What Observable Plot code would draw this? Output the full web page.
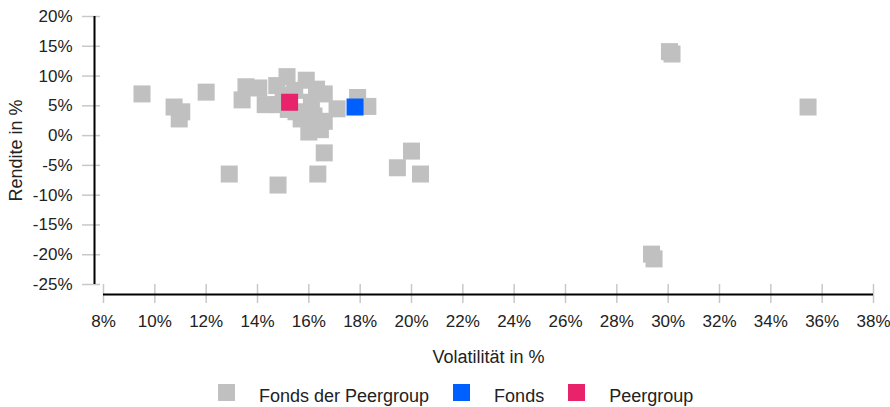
<!DOCTYPE html>
<html>
<head>
<meta charset="utf-8">
<script src="https://cdn.jsdelivr.net/npm/d3@7"></script>
<script src="https://cdn.jsdelivr.net/npm/@observablehq/plot@0.6"></script>
<style>
  html, body { margin: 0; padding: 0; background: #fff; }
  body { width: 890px; height: 407px; overflow: hidden; font-family: "Liberation Sans", Arial, sans-serif; }
  #legend { display: flex; align-items: center; height: 37px; padding-left: 218px; font-size: 18px; color: #222; margin-top: 8px; }
  #legend .item { display: flex; align-items: center; margin-right: 24px; }
  #legend .sw { width: 17px; height: 17px; margin-right: 24px; position: relative; top: -4px; }
</style>
</head>
<body>
<div id="chart"></div>
<div id="legend"></div>
<script>
// ---- Data ----
const xTicks = [8, 10, 12, 14, 16, 18, 20, 22, 24, 26, 28, 30, 32, 34, 36, 38];
const yTicks = [20, 15, 10, 5, 0, -5, -10, -15, -20, -25];

// Fonds der Peergroup (volatility %, return %)
const peerVol = [9.5, 10.75, 11.05, 10.95, 12.0, 12.9, 14.8, 16.35, 16.6, 19.45, 20.0, 20.35,
  30.05, 30.15, 35.45, 29.35, 29.45,
  13.55, 13.4, 14.05, 14.3, 14.75, 15.15, 15.0, 15.5, 15.9, 16.6, 16.0, 16.45, 16.2, 16.6,
  17.1, 17.9, 18.3, 15.7, 16.1, 15.45, 14.8, 16.3, 15.2];
const peerRet = [7.0, 4.8, 4.0, 2.8, 7.3, -6.45, -8.3, -6.45, -2.9, -5.4, -2.6, -6.45,
  14.1, 13.7, 4.8, -19.9, -20.7,
  8.2, 6.0, 8.0, 5.2, 8.4, 9.9, 6.8, 4.0, 9.3, 7.0, 0.6, 1.0, 3.3, 2.4,
  4.5, 6.4, 4.9, 2.8, 5.6, 7.6, 5.2, 7.8, 4.4];

const fondsVol = [17.8];
const fondsRet = [4.8];
const pgVol = [15.25];
const pgRet = [5.6];

const seriesNames = ["Fonds der Peergroup", "Fonds", "Peergroup"];
const seriesColors = ["#c0c0c0", "#0060ff", "#e8236b"];

// ---- Build tables ----
const peers = peerVol.map((v, i) => ({v, r: peerRet[i]}));
const fonds = fondsVol.map((v, i) => ({v, r: fondsRet[i]}));
const pg = pgVol.map((v, i) => ({v, r: pgRet[i]}));

const xMin = d3.min(xTicks), xMax = d3.max(xTicks);
const yMin = d3.min(yTicks), yMax = d3.max(yTicks);
const font = "Liberation Sans, Arial, sans-serif";
const pct = d => d + "%";
const R = 9.6;

const chart = Plot.plot({
  width: 890,
  height: 370,
  marginLeft: 103,
  marginRight: 17,
  marginTop: 16,
  marginBottom: 86,
  style: {fontFamily: font, fontSize: "17px", color: "#222", background: "white"},
  x: {domain: [xMin, xMax]},
  y: {domain: [yMin, yMax]},
  marks: [
    // grey tick marks
    Plot.axisY({ticks: yTicks, tickSize: 18, dx: -3, stroke: "#c8c8c8", strokeWidth: 1.5, text: null, label: null}),
    Plot.axisX({ticks: xTicks, tickSize: 19, stroke: "#c8c8c8", strokeWidth: 1.5, text: null, label: null}),
    // tick labels
    Plot.axisY({ticks: yTicks, tickSize: 0, tickPadding: 31, tickFormat: pct, fill: "#222", fontSize: 17, label: null}),
    Plot.axisX({ticks: xTicks, tickSize: 0, tickPadding: 30, tickFormat: pct, fill: "#222", fontSize: 17, label: null}),
    // axis lines
    Plot.ruleX([xMin], {y1: yMin, y2: yMax, dx: -9, stroke: "black", strokeWidth: 2}),
    Plot.ruleY([yMin], {x1: xMin, x2: xMax, dy: 10, stroke: "black", strokeWidth: 2}),
    // axis titles
    Plot.text(["Volatilität in %"], {x: (xMin + xMax) / 2, y: yMin, dy: 73, fontSize: 18, fill: "#222"}),
    Plot.text(["Rendite in %"], {x: xMin, y: (yMin + yMax) / 2, dx: -87, rotate: -90, fontSize: 18, fill: "#222"}),
    // points
    Plot.dot(peers, {x: "v", y: "r", symbol: "square", r: R, fill: seriesColors[0], stroke: "none"}),
    Plot.dot(fonds, {x: "v", y: "r", symbol: "square", r: R, fill: seriesColors[1], stroke: "none"}),
    Plot.dot(pg, {x: "v", y: "r", symbol: "square", r: R, fill: seriesColors[2], stroke: "none"})
  ]
});
document.getElementById("chart").appendChild(chart);

// ---- Legend ----
const legend = d3.select("#legend");
seriesNames.forEach((name, i) => {
  const item = legend.append("div").attr("class", "item");
  item.append("div").attr("class", "sw").style("background", seriesColors[i]);
  item.append("span").text(name);
});
</script>
</body>
</html>
